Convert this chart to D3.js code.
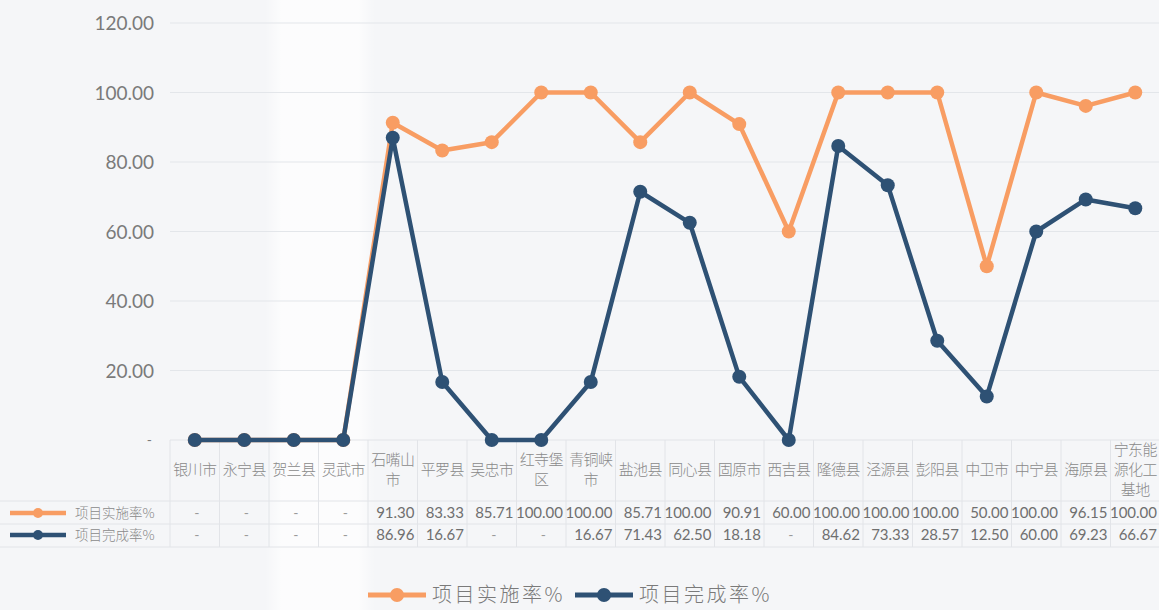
<!DOCTYPE html>
<html><head><meta charset="utf-8">
<script src="https://cdn.jsdelivr.net/npm/d3@7"></script>
<style>
html,body{margin:0;padding:0;background:#f6f7f9;}
svg{display:block;}
</style></head>
<body>
<svg id="c" width="1159" height="610"></svg>
<script>
const categories = ["银川市","永宁县","贺兰县","灵武市","石嘴山市","平罗县","吴忠市","红寺堡区","青铜峡市","盐池县","同心县","固原市","西吉县","隆德县","泾源县","彭阳县","中卫市","中宁县","海原县","宁东能源化工基地"];
const categoryLines = [["银川市"],["永宁县"],["贺兰县"],["灵武市"],["石嘴山","市"],["平罗县"],["吴忠市"],["红寺堡","区"],["青铜峡","市"],["盐池县"],["同心县"],["固原市"],["西吉县"],["隆德县"],["泾源县"],["彭阳县"],["中卫市"],["中宁县"],["海原县"],["宁东能","源化工","基地"]];
const implementRate = [0,0,0,0,91.30,83.33,85.71,100.00,100.00,85.71,100.00,90.91,60.00,100.00,100.00,100.00,50.00,100.00,96.15,100.00];
const completeRate = [0,0,0,0,86.96,16.67,0,0,16.67,71.43,62.50,18.18,0,84.62,73.33,28.57,12.50,60.00,69.23,66.67];
const seriesNames = ["项目实施率%","项目完成率%"];
const yTicks = [0,20,40,60,80,100,120];

(function(){
const colors = ["#f89d63","#2e5174"];
const svg = d3.select("#c");
const W = 1159, H = 610;
const pLeft = 170, pRight = 1160, pTop = 23, pBottom = 440;

const x = d3.scaleBand().domain(categories).range([pLeft, pRight]).padding(0);
const y = d3.scaleLinear().domain([0,120]).range([pBottom, pTop]);
const cx = c => x(c) + x.bandwidth()/2;

const defs = svg.append("defs");
const g1 = defs.append("linearGradient").attr("id","band").attr("x1","0").attr("x2","1");
g1.append("stop").attr("offset","0").attr("stop-color","#ffffff").attr("stop-opacity",0);
g1.append("stop").attr("offset","0.15").attr("stop-color","#ffffff").attr("stop-opacity",0.7);
g1.append("stop").attr("offset","0.85").attr("stop-color","#ffffff").attr("stop-opacity",0.7);
g1.append("stop").attr("offset","1").attr("stop-color","#ffffff").attr("stop-opacity",0);
svg.append("rect").attr("x",0).attr("y",0).attr("width",W).attr("height",H).attr("fill","#f5f6f8");
svg.append("rect").attr("x",265).attr("y",0).attr("width",110).attr("height",H).attr("fill","url(#band)");

// gridlines
svg.append("g").selectAll("line").data(yTicks.filter(d=>d>0)).join("line")
  .attr("x1",pLeft).attr("x2",W).attr("y1",d=>y(d)).attr("y2",d=>y(d))
  .attr("stroke","#e3e6ea").attr("stroke-width",1);

// y axis
const yAxis = d3.axisLeft(y).tickValues(yTicks).tickSize(0).tickPadding(0)
  .tickFormat(d => d===0 ? "-" : d3.format(".2f")(d));
const ya = svg.append("g").attr("transform",`translate(154,0)`).call(yAxis);
ya.select(".domain").remove();
ya.selectAll("text").attr("fill","#7a7a7a").style("font-family","Lato, 'Open Sans', sans-serif").style("font-size","19px").attr("dy","0.35em");
ya.selectAll(".tick").filter(d=>d===0).select("text").attr("x",-2).style("font-size","14px");

// table grid
const tableTop = pBottom, tableBottom = 547;
const rowLines = [501, 524];
const bounds = categories.map(c=>x(c)).concat([pRight]);
svg.append("g").selectAll("line").data(bounds).join("line")
  .attr("x1",d=>d).attr("x2",d=>d).attr("y1",tableTop).attr("y2",tableBottom)
  .attr("stroke","#e2e4e8").attr("stroke-width",1);
svg.append("g").selectAll("line").data([tableTop].concat(rowLines).concat([tableBottom])).join("line")
  .attr("x1",(d,i)=> i===0 ? pLeft : 0).attr("x2",W).attr("y1",d=>d).attr("y2",d=>d)
  .attr("stroke","#e2e4e8").attr("stroke-width",1);

// category labels
const catFont = "'Noto Sans CJK SC', sans-serif";
const catG = svg.append("g");
categories.forEach((c,i)=>{
  const lines = categoryLines[i];
  const lh = 20;
  const y0 = 470 - (lines.length-1)*lh/2;
  lines.forEach((t,j)=>{
    catG.append("text").attr("x",cx(c)).attr("y",y0+j*lh).attr("dy","0.35em")
      .attr("text-anchor","middle").attr("fill","#8a8a8a")
      .style("font-family",catFont).style("font-size","15px").style("font-weight","300")
      .style("letter-spacing","-0.6px")
      .text(t);
  });
});

// table values
const rowsY = [513, 535];
[implementRate, completeRate].forEach((arr,r)=>{
  const g = svg.append("g");
  categories.forEach((c,i)=>{
    const v = arr[i];
    const xr = x(c) + x.bandwidth();
    if (v === 0) {
      g.append("text").attr("x", xr - 20).attr("y", rowsY[r]).attr("dy","0.35em")
        .attr("text-anchor","end").attr("fill","#9a9a9a")
        .style("font-family","Lato, sans-serif").style("font-size","14px").text("-");
    } else {
      g.append("text").attr("x", xr - 3).attr("y", rowsY[r]).attr("dy","0.35em")
        .attr("text-anchor","end").attr("fill","#6f6f6f")
        .style("font-family","Lato, 'Open Sans', sans-serif").style("font-size","15px")
        .text(d3.format(".2f")(v));
    }
  });
  const lk = svg.append("g");
  lk.append("line").attr("x1",10).attr("x2",66).attr("y1",rowsY[r]).attr("y2",rowsY[r])
    .attr("stroke",colors[r]).attr("stroke-width",4.5);
  lk.append("circle").attr("cx",38).attr("cy",rowsY[r]).attr("r",5).attr("fill",colors[r]);
  lk.append("text").attr("x",75).attr("y",rowsY[r]).attr("dy","0.35em").attr("fill","#8a8a8a")
    .style("font-family",catFont).style("font-size","13.5px").style("font-weight","300").text(seriesNames[r]);
});

// lines
const line = d3.line().x((d,i)=>cx(categories[i])).y(d=>y(d));
[implementRate, completeRate].forEach((arr,r)=>{
  svg.append("path").datum(arr).attr("d",line).attr("fill","none")
    .attr("stroke",colors[r]).attr("stroke-width",4.5).attr("stroke-linejoin","round");
  svg.append("g").selectAll("circle").data(arr).join("circle")
    .attr("cx",(d,i)=>cx(categories[i])).attr("cy",d=>y(d)).attr("r",7)
    .attr("fill",colors[r]);
});

// bottom legend
const leg = svg.append("g");
const legY = 595;
const legItems = [{x:368, c:colors[0], t:seriesNames[0]},{x:575, c:colors[1], t:seriesNames[1]}];
legItems.forEach(it=>{
  leg.append("line").attr("x1",it.x).attr("x2",it.x+58).attr("y1",legY).attr("y2",legY)
    .attr("stroke",it.c).attr("stroke-width",5);
  leg.append("circle").attr("cx",it.x+29).attr("cy",legY).attr("r",7).attr("fill",it.c);
  leg.append("text").attr("x",it.x+64).attr("y",legY).attr("dy","0.35em").attr("fill","#7a7a7a")
    .style("font-family",catFont).style("font-size","20px").style("font-weight","300")
    .style("letter-spacing","2.5px").text(it.t);
});
})();
</script>
</body></html>
